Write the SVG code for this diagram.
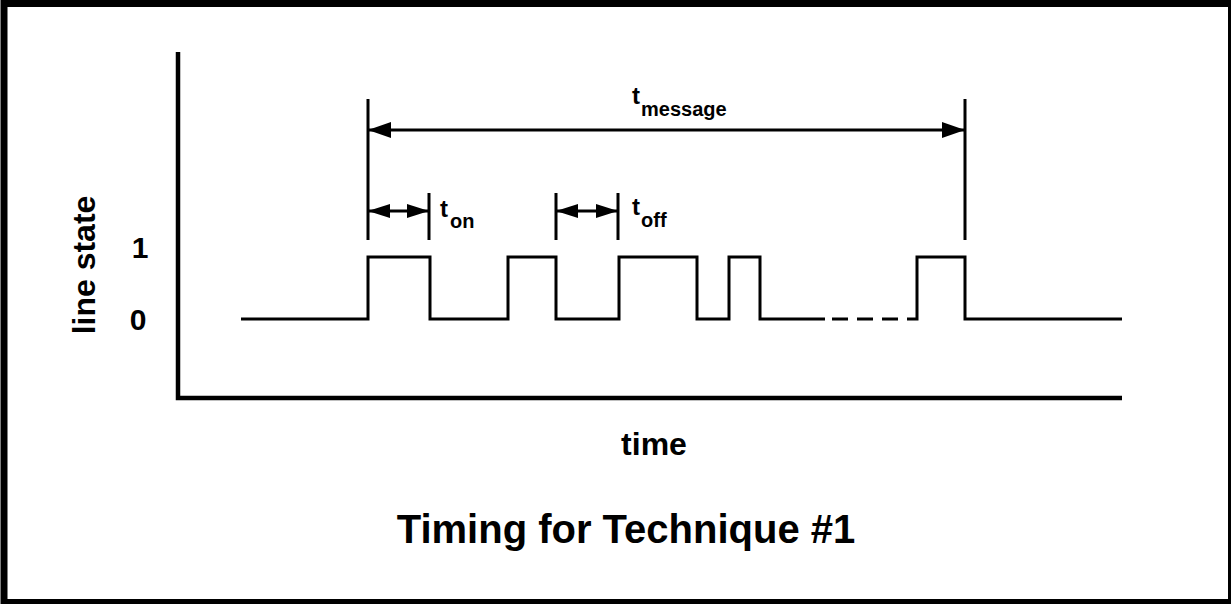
<svg xmlns="http://www.w3.org/2000/svg" width="1231" height="604" viewBox="0 0 1231 604">
<style>
.t{font-family:"Liberation Sans",Arial,sans-serif;font-weight:bold;fill:#000}
.ln{stroke:#000;stroke-width:3;fill:none}
.ax{stroke:#000;stroke-width:4.5;fill:none}
</style>
<defs>
<marker id="bigA" viewBox="0 0 23 16" refX="23" refY="8" markerWidth="23" markerHeight="16" markerUnits="userSpaceOnUse" orient="auto-start-reverse">
<path d="M0,0 L23,8 L0,16 Z" fill="#000"/>
</marker>
<marker id="smA" viewBox="0 0 22 14" refX="22" refY="7" markerWidth="22" markerHeight="14" markerUnits="userSpaceOnUse" orient="auto-start-reverse">
<path d="M0,0 L22,7 L0,14 Z" fill="#000"/>
</marker>
</defs>
<rect x="0" y="0" width="1231" height="604" fill="#fff"/>
<rect x="4" y="3.5" width="1227.5" height="599" fill="none" stroke="#000" stroke-width="7"/>
<g id="axes">
<path class="ax" d="M178,52 V398 H1122"/>
</g>
<g id="labels">
<text class="t" font-size="32" transform="translate(95,265) rotate(-90)" text-anchor="middle">line state</text>
<text class="t" font-size="30" x="140" y="258" text-anchor="middle">1</text>
<text class="t" font-size="30" x="138" y="330" text-anchor="middle">0</text>
<text class="t" font-size="32" x="654" y="455" text-anchor="middle">time</text>
<text class="t" font-size="40" x="626" y="543" text-anchor="middle">Timing for Technique #1</text>
</g>
<g id="signal">
<path class="ln" d="M241,319 H368 V257 H430 V319 H508 V257 H556 V319 H619 V257 H697 V319 H729 V257 H760 V319 H825"/>
<path class="ln" d="M832,319 H848 M857,319 H873 M882,319 H898"/>
<path class="ln" d="M907,319 H917 V257 H965 V319 H1122"/>
</g>
<g id="connectors">
<path class="ln" d="M368,99 V240 M965,99 V240 M429,193 V240 M556,193 V240 M618,193 V240"/>
<line class="ln" x1="368" y1="130" x2="965" y2="130" marker-start="url(#bigA)" marker-end="url(#bigA)"/>
<line class="ln" x1="368" y1="211" x2="429" y2="211" marker-start="url(#smA)" marker-end="url(#smA)"/>
<line class="ln" x1="556" y1="211" x2="618" y2="211" marker-start="url(#smA)" marker-end="url(#smA)"/>
</g>
<g id="tmessage">
<text class="t" font-size="24" x="632" y="104">t</text>
<text class="t" font-size="20" x="641" y="116">message</text>
</g>
<g id="ton">
<text class="t" font-size="24" x="440" y="217">t</text>
<text class="t" font-size="20" x="450" y="228">on</text>
</g>
<g id="toff">
<text class="t" font-size="24" x="632" y="215">t</text>
<text class="t" font-size="20" x="641" y="227">off</text>
</g>
</svg>
